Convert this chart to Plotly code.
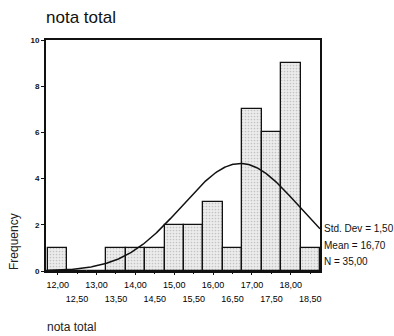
import numpy as np
import plotly.graph_objects as go

# Data
bin_centers = [12.0, 12.5, 13.0, 13.5, 14.0, 14.5, 15.0, 15.5, 16.0, 16.5, 17.0, 17.5, 18.0, 18.5]
frequencies = [1, 0, 0, 1, 1, 1, 2, 2, 3, 1, 7, 6, 9, 1]
bin_width = 0.5
stat_mean = 16.70
stat_sd = 1.50
stat_n = 35
y_ticks = [0, 2, 4, 6, 8, 10]
title_text = "nota total"
x_title = "nota total"
y_title = "Frequency"
stats_labels = ["Std. Dev = 1,50", "Mean = 16,70", "N = 35,00"]

W, H = 394, 336
L, R, T, B = 46, 74, 40, 65
X_RANGE = [11.70, 18.75]
PW = W - L - R
PH = H - T - B

def fmt(v):
    return f"{v:.2f}".replace(".", ",")

even_ticks = bin_centers[0::2]
odd_ticks = bin_centers[1::2]

# normal curve fitted from the stats shown on the chart
xs = np.linspace(X_RANGE[0], X_RANGE[1], 300)
ys = stat_n * bin_width * np.exp(-0.5 * ((xs - stat_mean) / stat_sd) ** 2) / (stat_sd * np.sqrt(2 * np.pi))

font = "Liberation Sans, Arial, sans-serif"
fig = go.Figure()
fig.add_trace(go.Bar(
    x=bin_centers, y=frequencies, width=bin_width,
    marker=dict(color="#e6e6e6", line=dict(color="#111", width=1.3),
                pattern=dict(shape=".", fgcolor="#9a9a9a", bgcolor="#ececec", size=3, solidity=0.25)),
    showlegend=False, hoverinfo="skip",
))
fig.add_trace(go.Scatter(x=xs, y=ys, mode="lines", line=dict(color="#111", width=1.5),
                         showlegend=False, hoverinfo="skip", cliponaxis=True))
fig.add_trace(go.Scatter(x=[bin_centers[0]], y=[0], xaxis="x2", mode="markers",
                         marker=dict(opacity=0), showlegend=False, hoverinfo="skip"))

tickfont = dict(family=font, size=9, color="#000")
fig.update_layout(
    width=W, height=H, margin=dict(l=L, r=R, t=T, b=B),
    paper_bgcolor="white", plot_bgcolor="white", bargap=0,
    xaxis=dict(range=X_RANGE, tickvals=even_ticks, ticktext=[fmt(v) for v in even_ticks],
               showgrid=False, zeroline=False, showline=True, linecolor="#111", linewidth=1.5,
               mirror=True, ticks="outside", ticklen=2, tickcolor="#111", tickfont=tickfont,
               ticklabelstandoff=2),
    xaxis2=dict(range=X_RANGE, overlaying="x", side="bottom", matches="x",
                tickvals=odd_ticks, ticktext=[fmt(v) for v in odd_ticks],
                showgrid=False, zeroline=False, showline=False, ticks="outside", ticklen=2,
                tickcolor="#111", tickfont=tickfont, ticklabelstandoff=17),
    yaxis=dict(range=[0, 10], tickvals=y_ticks, ticktext=[f"<b>{v}</b>" for v in y_ticks],
               showgrid=False, zeroline=False, showline=True, linecolor="#111", linewidth=1.8,
               mirror=True, ticks="outside", ticklen=3, tickcolor="#111",
               tickfont=dict(family=font, size=8, color="#111")),
)

annots = [
    dict(text=title_text, x=(44 - L) / PW, y=(T + PH - 18) / PH, xanchor="left", yanchor="middle",
         font=dict(family=font, size=17, color="#111")),
    dict(text=y_title, x=(14 - L) / PW, y=(T + PH - 242) / PH, xanchor="center", yanchor="middle",
         textangle=-90, font=dict(family=font, size=12, color="#222")),
    dict(text=x_title, x=(45 - L) / PW, y=(T + PH - 327) / PH, xanchor="left", yanchor="middle",
         font=dict(family=font, size=12, color="#222")),
]
for lab, yv in zip(stats_labels, [1.86, 1.12, 0.39]):
    annots.append(dict(text=lab, x=(322 - L) / PW, y=yv, xref="paper", yref="y",
                       xanchor="left", yanchor="middle",
                       font=dict(family=font, size=10, color="#111")))
for a in annots:
    a.setdefault("xref", "paper")
    a.setdefault("yref", "paper")
    a["showarrow"] = False
fig.update_layout(annotations=annots)

fig.write_html("out.html", config={"displayModeBar": False},
               post_script="document.body.style.margin='0';document.body.style.overflow='hidden';")
